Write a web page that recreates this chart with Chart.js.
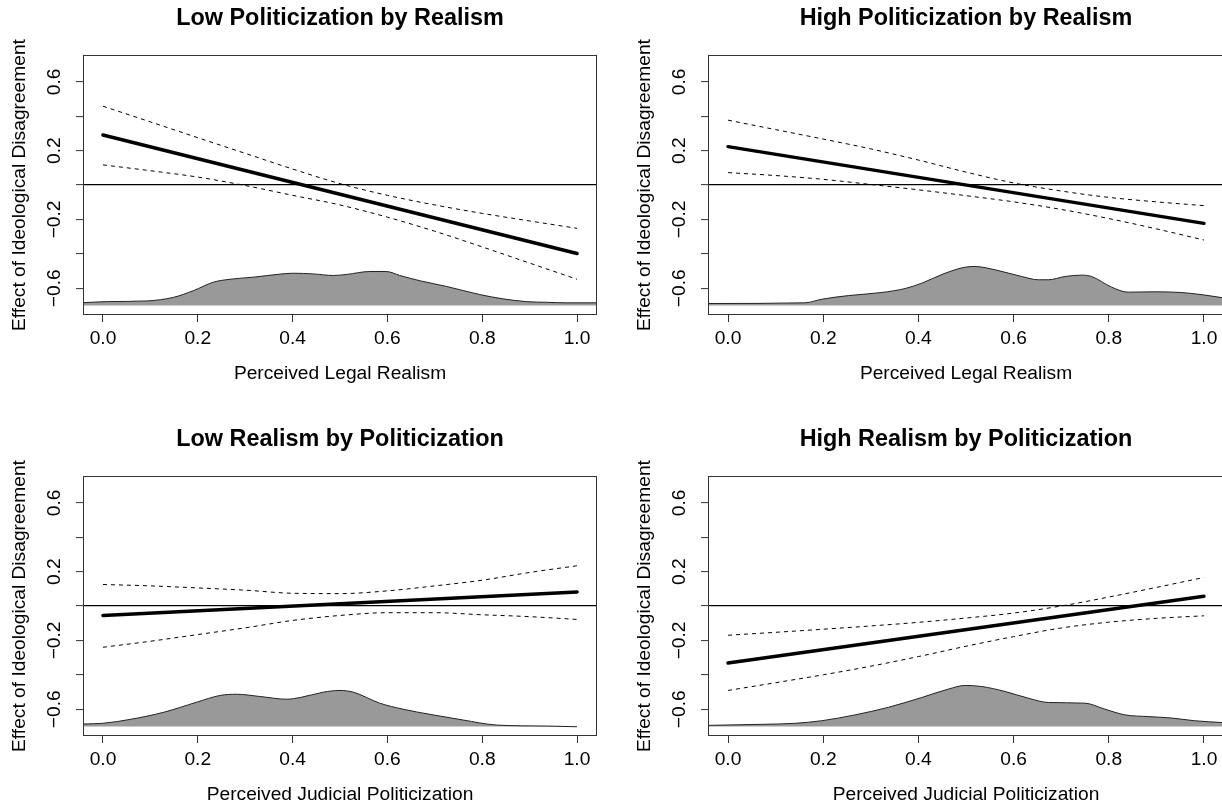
<!DOCTYPE html>
<html><head><meta charset="utf-8">
<script src="https://cdn.jsdelivr.net/npm/chart.js@4.4.1/dist/chart.umd.min.js"></script>
<style>
html,body{margin:0;padding:0;overflow:hidden;background:#fff;width:1222px;height:810px;}
canvas{position:absolute;}
</style></head><body>
<canvas id="c0" width="611" height="405" style="left:0px;top:0px"></canvas>
<canvas id="c1" width="611" height="405" style="left:625px;top:0px"></canvas>
<canvas id="c2" width="611" height="405" style="left:0px;top:421px"></canvas>
<canvas id="c3" width="611" height="405" style="left:625px;top:421px"></canvas>
<script>
// ---- text ----
const titles = ['Low Politicization by Realism','High Politicization by Realism','Low Realism by Politicization','High Realism by Politicization'];
const xTitles = ['Perceived Legal Realism','Perceived Legal Realism','Perceived Judicial Politicization','Perceived Judicial Politicization'];
const yTitle = 'Effect of Ideological Disagreement';

// ---- ticks ----
const xTicks = [0, 0.2, 0.4, 0.6, 0.8, 1.0];
const xTickLabels = ['0.0','0.2','0.4','0.6','0.8','1.0'];
const yTicks = [-0.6, -0.4, -0.2, 0, 0.2, 0.4, 0.6];
const yTickLabels = ['\u22120.6','','\u22120.2','','0.2','','0.6'];

// ---- effect lines ----
const meanX = [0, 1];
const ciX = [0, 0.1, 0.2, 0.3, 0.4, 0.5, 0.6, 0.7, 0.8, 0.9, 1.0];

const tlMean = [0.291, -0.398];
const tlUpper = [0.458, 0.367, 0.275, 0.184, 0.093, 0.008, -0.060, -0.116, -0.165, -0.209, -0.252];
const tlLower = [0.117, 0.083, 0.046, -0.003, -0.060, -0.116, -0.187, -0.269, -0.360, -0.454, -0.548];

const trMean = [0.223, -0.223];
const trUpper = [0.377, 0.322, 0.267, 0.210, 0.145, 0.075, 0.012, -0.035, -0.072, -0.098, -0.120];
const trLower = [0.072, 0.055, 0.033, 0.003, -0.028, -0.062, -0.098, -0.142, -0.195, -0.255, -0.320];

const blMean = [-0.055, 0.082];
const blUpper = [0.125, 0.117, 0.105, 0.092, 0.074, 0.072, 0.088, 0.117, 0.150, 0.195, 0.234];
const blLower = [-0.240, -0.205, -0.166, -0.127, -0.084, -0.055, -0.039, -0.039, -0.051, -0.062, -0.078];

const brMean = [-0.331, 0.057];
const brUpper = [-0.170, -0.153, -0.135, -0.116, -0.095, -0.070, -0.041, 0.000, 0.052, 0.108, 0.166];
const brLower = [-0.491, -0.446, -0.400, -0.350, -0.294, -0.234, -0.178, -0.128, -0.094, -0.072, -0.057];

// ---- density curves (drawn on baseline -0.7) ----
const densBase = -0.7;
const tlDensX = [-0.04,0.008,0.093,0.149,0.191,0.233,0.268,0.317,0.374,0.402,0.444,0.486,0.514,0.563,0.598,0.626,0.669,0.725,0.795,0.844,0.893,0.935,0.978,1.04];
const tlDensY = [-0.684,-0.678,-0.674,-0.653,-0.614,-0.565,-0.548,-0.536,-0.518,-0.513,-0.517,-0.526,-0.520,-0.503,-0.503,-0.526,-0.557,-0.590,-0.637,-0.662,-0.678,-0.682,-0.685,-0.685];

const trDensX = [-0.04,0.162,0.197,0.253,0.323,0.372,0.407,0.456,0.498,0.519,0.561,0.617,0.652,0.673,0.708,0.743,0.764,0.806,0.841,0.897,0.952,0.994,1.04];
const trDensY = [-0.689,-0.685,-0.664,-0.643,-0.625,-0.602,-0.571,-0.513,-0.478,-0.474,-0.493,-0.532,-0.551,-0.551,-0.532,-0.524,-0.532,-0.594,-0.623,-0.621,-0.625,-0.637,-0.656];

const blDensX = [-0.04,0.0,0.058,0.128,0.198,0.247,0.282,0.331,0.388,0.416,0.465,0.5,0.528,0.584,0.633,0.69,0.76,0.83,0.935,1.0];
const blDensY = [-0.686,-0.682,-0.659,-0.618,-0.559,-0.520,-0.513,-0.526,-0.542,-0.532,-0.501,-0.491,-0.501,-0.565,-0.600,-0.630,-0.663,-0.692,-0.698,-0.702];

const brDensX = [-0.04,0.071,0.141,0.197,0.267,0.337,0.407,0.463,0.498,0.533,0.582,0.631,0.673,0.75,0.792,0.834,0.883,0.931,0.98,1.04];
const brDensY = [-0.694,-0.688,-0.682,-0.667,-0.633,-0.589,-0.532,-0.483,-0.462,-0.468,-0.497,-0.536,-0.561,-0.565,-0.600,-0.633,-0.643,-0.651,-0.667,-0.678];

const panels = [
  {mean: tlMean, up: tlUpper, lo: tlLower, dx: tlDensX, dy: tlDensY, padRight: 15},
  {mean: trMean, up: trUpper, lo: trLower, dx: trDensX, dy: trDensY, padRight: 13},
  {mean: blMean, up: blUpper, lo: blLower, dx: blDensX, dy: blDensY, padRight: 15},
  {mean: brMean, up: brUpper, lo: brLower, dx: brDensX, dy: brDensY, padRight: 13}
];

Chart.defaults.font.family = "'Liberation Sans', Arial, sans-serif";
Chart.defaults.color = '#000';

const mk = (xs, ys) => xs.map((x, i) => ({x: x, y: ys[i]}));

const boxPlugin = {
  id: 'plotBox',
  afterDraw(chart) {
    const {ctx, chartArea: a} = chart;
    ctx.save();
    ctx.strokeStyle = '#333';
    ctx.lineWidth = 1;
    ctx.strokeRect(a.left - 0.5, a.top - 0.5, a.right - a.left + 1, a.bottom - a.top + 1);
    ctx.restore();
  }
};

const baseSize = 19.2;

panels.forEach((p, i) => {
  new Chart(document.getElementById('c' + i), {
    type: 'line',
    data: {
      datasets: [
        {data: mk(meanX, p.mean), borderColor: '#000', borderWidth: 3.5, borderCapStyle: 'round', pointRadius: 0, fill: false, order: 0},
        {data: mk(ciX, p.up), borderColor: '#000', borderWidth: 1, borderDash: [4, 4], pointRadius: 0, fill: false, cubicInterpolationMode: 'monotone', order: 1},
        {data: mk(ciX, p.lo), borderColor: '#000', borderWidth: 1, borderDash: [4, 4], pointRadius: 0, fill: false, cubicInterpolationMode: 'monotone', order: 1},
        {data: mk(p.dx, p.dy), borderColor: '#222', borderWidth: 1, backgroundColor: '#999999', fill: {value: densBase}, pointRadius: 0, cubicInterpolationMode: 'monotone', clip: 0, order: 3}
      ]
    },
    options: {
      responsive: false,
      animation: false,
      devicePixelRatio: 1,
      layout: {autoPadding: false, padding: {left: 0, top: 0, bottom: 0, right: p.padRight}},
      plugins: {
        legend: {display: false},
        tooltip: {enabled: false},
        title: {display: true, text: titles[i], fullSize: false, color: '#000', font: {size: 23.4, weight: 'bold'}, padding: {top: 4.6, bottom: 23.32}}
      },
      scales: {
        x: {
          type: 'linear', min: -0.04, max: 1.04,
          afterBuildTicks: s => { s.ticks = xTicks.map(v => ({value: v})); },
          afterFit: s => { s.height = 91; },
          ticks: {autoSkip: false, minRotation: 0, maxRotation: 0, padding: 4.8, color: '#000', font: {size: baseSize}, callback: (v, k) => xTickLabels[k]},
          grid: {drawOnChartArea: false, tickLength: 8, color: '#333', lineWidth: 1},
          border: {display: false},
          title: {display: true, text: xTitles[i], color: '#000', font: {size: baseSize}, padding: {top: 0, bottom: 19.7}}
        },
        y: {
          type: 'linear', min: -0.75, max: 0.75,
          afterBuildTicks: s => { s.ticks = yTicks.map(v => ({value: v})); },
          afterFit: s => { s.width = 84; },
          ticks: {autoSkip: false, minRotation: 90, maxRotation: 90, crossAlign: 'center', padding: 2.2, color: '#000', font: {size: baseSize}, callback: (v, k) => yTickLabels[k]},
          grid: {drawOnChartArea: true, tickLength: 8, lineWidth: 1.2, tickWidth: 1, tickColor: '#333',
                 color: c => (c.tick && c.tick.value === 0) ? '#000' : 'rgba(0,0,0,0)'},
          border: {display: false},
          title: {display: true, text: yTitle, color: '#000', font: {size: baseSize}, padding: {top: 7.8, bottom: 0}}
        }
      }
    },
    plugins: [boxPlugin]
  });
});
</script>
</body></html>
